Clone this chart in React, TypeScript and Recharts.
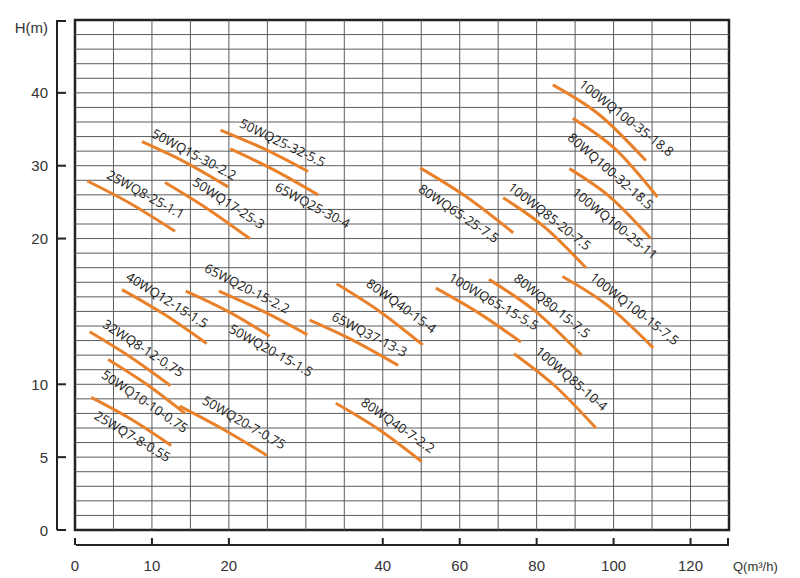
import React from 'react';
import {
  ComposedChart, Line, Scatter, XAxis, YAxis, ReferenceLine, ReferenceArea,
} from 'recharts';

// pump model of each curve
const models = [
  '25WQ7-8-0.55', '50WQ10-10-0.75', '32WQ8-12-0.75', '50WQ20-7-0.75',
  '25WQ8-25-1.1', '50WQ15-30-2.2', '50WQ17-25-3', '50WQ25-32-5.5', '65WQ25-30-4',
  '40WQ12-15-1.5', '65WQ20-15-2.2', '50WQ20-15-1.5', '65WQ37-13-3',
  '80WQ40-15-4', '80WQ40-7-2.2', '80WQ65-25-7.5', '100WQ65-15-5.5', '80WQ80-15-7.5',
  '100WQ85-10-4', '100WQ85-20-7.5', '100WQ100-35-18.8', '80WQ100-32-18.5',
  '100WQ100-25-11', '100WQ100-15-7.5',
];

// Q (m3/h) at start, middle, end of each curve
const flowQ = [
  [2.1, 7.3, 12.5], [4.3, 9.3, 14.3], [1.9, 7.1, 12.4], [13.6, 19.3, 25.0],
  [1.6, 7.3, 13.0], [8.7, 14.3, 19.9], [11.7, 17.2, 22.7], [18.9, 24.6, 30.3], [20.2, 25.9, 31.6],
  [6.1, 11.6, 17.1], [18.7, 24.5, 30.2], [14.4, 19.9, 25.3], [30.5, 36.2, 44.0],
  [34.0, 39.6, 50.4], [33.9, 39.5, 50.1], [49.7, 61.8, 73.9], [53.8, 64.9, 75.9], [67.6, 79.7, 91.7],
  [74.1, 84.7, 95.4], [71.3, 82.0, 92.8], [84.2, 96.3, 108.4], [89.4, 100.4, 111.4],
  [88.5, 99.1, 109.7], [86.7, 98.5, 110.3],
];

// H (m) at the same points
const headH = [
  [9.1, 7.6, 5.8], [11.7, 10.0, 8.0], [13.6, 11.9, 9.9], [8.5, 6.9, 5.1],
  [27.9, 24.75, 21.0], [33.3, 30.5, 27.1], [27.7, 24.1, 20.0], [34.9, 32.3, 29.2], [32.3, 29.4, 26.0],
  [16.5, 14.8, 12.8], [16.4, 15.0, 13.4], [16.4, 15.0, 13.3], [14.4, 13.0, 11.3],
  [16.9, 15.0, 12.7], [8.7, 6.9, 4.7], [29.7, 25.7, 20.8], [16.6, 14.9, 12.9], [17.2, 15.0, 12.0],
  [12.1, 9.9, 7.0], [25.6, 21.6, 18.0], [41.1, 37.0, 30.7], [36.5, 32.3, 25.7],
  [29.6, 25.7, 20.0], [17.4, 15.4, 12.5],
];

// where each model name sits (Q, H) and its slant
const labelQ = [7.5, 9.1, 8.9, 22.0, 9.2, 15.5, 20.0, 27.0, 30.9, 12.0, 22.4, 25.5, 38.3,
  44.9, 44.0, 59.8, 68.9, 84.1, 89.1, 83.4, 103.4, 99.3, 100.4, 105.5];
const labelH = [6.45, 8.85, 12.5, 7.4, 26.1, 31.6, 24.9, 33.2, 24.6, 15.8, 16.6, 12.35, 13.45,
  15.4, 7.2, 23.5, 15.7, 15.4, 10.4, 23.1, 36.6, 29.3, 22.1, 15.2];
const labelAngle = [31, 34, 33, 30, 29, 28, 33, 26, 28, 32, 27, 29, 27,
  36, 35, 34, 30, 39, 41, 38, 38, 41, 39, 38];

const xTicks = [0, 10, 20, 40, 60, 80, 100, 120];
const yTicks = [0, 5, 10, 20, 30, 40];
const xMax = 130;
const yMax = 50;

// the low range of both axes is drawn at double scale
const qToAxis = (q: number) => (q <= 40 ? q : 40 + (q - 40) / 2);
const hToAxis = (h: number) => (h <= 20 ? h : 20 + (h - 20) / 2);
const axisToQ = (v: number) => Math.round(v <= 40 ? v : 40 + (v - 40) * 2);
const axisToH = (v: number) => Math.round(v <= 20 ? v : 20 + (v - 20) * 2);

const gridQ: number[] = [];
for (let q = 5; q < xMax; q += q < 40 ? 5 : 10) gridQ.push(q);
const gridH: number[] = [];
for (let h = 1; h < yMax; h += h < 20 ? 1 : 2) gridH.push(h);

const curves = models.map((m, i) => ({
  name: m,
  points: flowQ[i].map((q, j) => ({ x: qToAxis(q), y: hToAxis(headH[i][j]) })),
}));
const labels = models.map((m, i) => ({
  x: qToAxis(labelQ[i]), y: hToAxis(labelH[i]), name: m, angle: labelAngle[i],
}));

const ORANGE = '#E8812A';
const INK = '#222';
const axisFont = { fontFamily: '"Liberation Sans", Arial, sans-serif', fontSize: 15, fill: '#333' };

const XTick = ({ x, y, payload }: any) => (
  <g>
    <line x1={x} x2={x} y1={y + 8} y2={y + 15} stroke={INK} strokeWidth={2} />
    <text x={x} y={y + 35} textAnchor="middle" dominantBaseline="central" {...axisFont}>
      {axisToQ(payload.value)}
    </text>
  </g>
);

const YTick = ({ x, y, payload }: any) => (
  <g>
    <line x1={x - 18} x2={x - 9} y1={y} y2={y} stroke={INK} strokeWidth={2} />
    <text x={x - 27} y={y} textAnchor="end" dominantBaseline="central" {...axisFont}>
      {axisToH(payload.value)}
    </text>
  </g>
);

const XFrame = ({ viewBox }: any) => {
  const { x, y, width } = viewBox;
  const ly = y + 15;
  return (
    <g>
      <line x1={x + 1} x2={x + width} y1={ly} y2={ly} stroke={INK} strokeWidth={2} />
      <line x1={x + width - 1} x2={x + width - 1} y1={ly - 7} y2={ly} stroke={INK} strokeWidth={2} />
      <text x={x + width + 4} y={y + 36} dominantBaseline="central" {...axisFont} fontSize={13}>
        Q(m³/h)
      </text>
    </g>
  );
};

const YFrame = ({ viewBox }: any) => {
  const { x, y, width, height } = viewBox;
  const lx = x + width - 18;
  return (
    <g>
      <line x1={lx} x2={lx} y1={y} y2={y + height} stroke={INK} strokeWidth={2} />
      <line x1={lx} x2={lx + 9} y1={y + 1} y2={y + 1} stroke={INK} strokeWidth={2} />
      <text x={lx - 9} y={y + 7} textAnchor="end" dominantBaseline="central" {...axisFont}>
        H(m)
      </text>
    </g>
  );
};

const CurveLabel = ({ cx, cy, payload }: any) => (
  <text
    x={cx}
    y={cy}
    transform={`rotate(${payload.angle} ${cx} ${cy})`}
    textAnchor="middle"
    dominantBaseline="central"
    fontFamily='"Open Sans", sans-serif'
    fontSize={13}
    fill="#1a1a1a"
  >
    {payload.name}
  </text>
);

export default function App() {
  return (
    <div style={{ position: 'absolute', left: 0, top: 0, background: '#fff' }}>
      <ComposedChart width={800} height={578} margin={{ top: 20, right: 71, bottom: 0, left: 0 }}>
        <XAxis
          dataKey="x"
          type="number"
          domain={[0, qToAxis(xMax)]}
          ticks={xTicks.map(qToAxis)}
          interval={0}
          height={48}
          axisLine={false}
          tickLine={false}
          tickSize={0}
          tickMargin={0}
          tick={<XTick />}
          label={(p: any) => <XFrame {...p} />}
          allowDataOverflow
        />
        <YAxis
          dataKey="y"
          type="number"
          domain={[0, hToAxis(yMax)]}
          ticks={yTicks.map(hToAxis)}
          interval={0}
          width={75}
          axisLine={false}
          tickLine={false}
          tickSize={0}
          tickMargin={0}
          tick={<YTick />}
          label={(p: any) => <YFrame {...p} />}
          allowDataOverflow
        />
        {gridQ.map((q) => (
          <ReferenceLine key={`gx${q}`} x={qToAxis(q)} stroke="#5c5c5c" strokeWidth={1} />
        ))}
        {gridH.map((h) => (
          <ReferenceLine key={`gy${h}`} y={hToAxis(h)} stroke="#5c5c5c" strokeWidth={1} />
        ))}
        <ReferenceArea
          x1={0} x2={qToAxis(xMax)} y1={0} y2={hToAxis(yMax)}
          fill="none" fillOpacity={0} stroke={INK} strokeWidth={2.5}
        />
        {curves.map((c) => (
          <Line
            key={c.name}
            data={c.points}
            dataKey="y"
            type="monotone"
            stroke={ORANGE}
            strokeWidth={3}
            dot={false}
            activeDot={false}
            isAnimationActive={false}
          />
        ))}
        <Scatter data={labels} shape={(p: any) => <CurveLabel {...p} />} isAnimationActive={false} />
      </ComposedChart>
    </div>
  );
}
